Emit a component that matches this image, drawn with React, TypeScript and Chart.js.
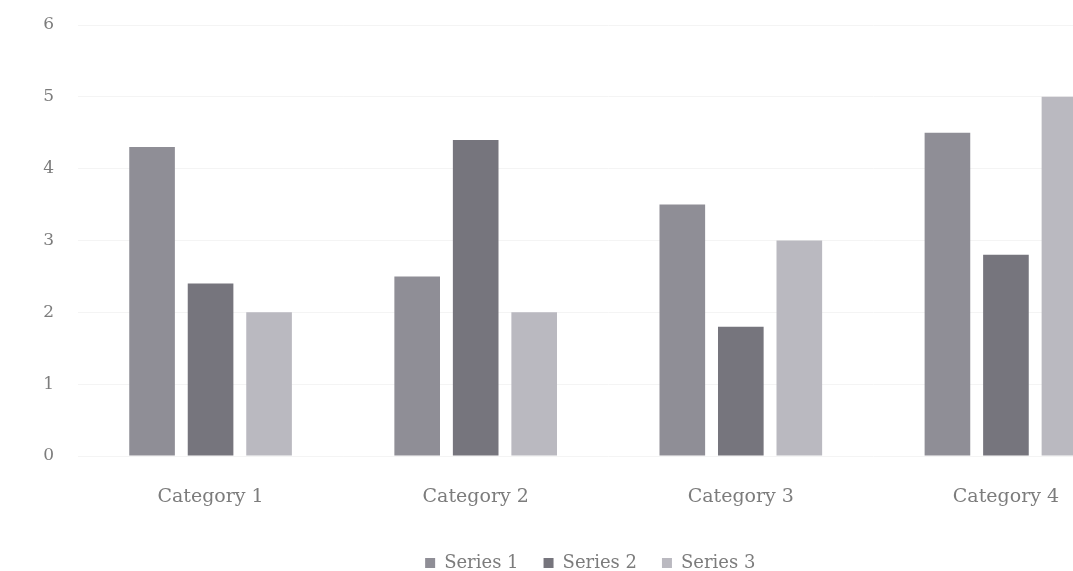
import React, { useEffect, useRef } from "react";
import { Chart, registerables } from "chart.js";

Chart.register(...registerables);

const categories = ["Category 1", "Category 2", "Category 3", "Category 4"];
const seriesNames = ["Series 1", "Series 2", "Series 3"];
const series1 = [4.3, 2.5, 3.5, 4.5];
const series2 = [2.4, 4.4, 1.8, 2.8];
const series3 = [2.0, 2.0, 3.0, 5.0];
const seriesColors = ["#8f8e96", "#76757d", "#bab9c0"];

export default function App() {
  const ref = useRef<HTMLCanvasElement | null>(null);
  useEffect(() => {
    const c = ref.current;
    if (!c) return;
    const values = [series1, series2, series3];
    const chart = new Chart(c, {
      type: "bar",
      data: {
        labels: categories,
        datasets: seriesNames.map((n, i) => ({
          label: n,
          data: values[i],
          backgroundColor: seriesColors[i],
          borderWidth: 0,
          categoryPercentage: 0.662,
          barPercentage: 0.78,
        })),
      },
      options: {
        animation: false,
        responsive: false,
        maintainAspectRatio: false,
        layout: { padding: { left: 42, right: 51.5, top: 25, bottom: 0 } },
        scales: {
          x: {
            afterFit: (s: any) => {
              s.height = 73;
            },
            grid: { display: false },
            border: { display: false },
            ticks: {
              color: "#7c7c7c",
              padding: 22,
              font: { family: "DejaVu Serif", size: 19 },
            },
          },
          y: {
            min: 0,
            max: 6,
            afterFit: (s: any) => {
              s.width = 36;
              s.paddingTop = 0;
              s.paddingBottom = 0;
            },
            grid: { color: "#f4f4f4", drawTicks: false },
            border: { display: false },
            ticks: {
              stepSize: 1,
              color: "#7c7c7c",
              padding: 24,
              font: { family: "DejaVu Serif", size: 17 },
            },
          },
        },
        plugins: {
          tooltip: { enabled: false },
          legend: {
            position: "bottom",
            labels: {
              color: "#7c7c7c",
              boxWidth: 10,
              boxHeight: 10,
              padding: 25,
              font: { family: "DejaVu Serif", size: 18 },
            },
          },
        },
      },
    });
    return () => chart.destroy();
  }, []);
  return (
    <div
      style={{
        position: "fixed",
        left: 0,
        top: 0,
        width: 1073,
        height: 571,
        overflow: "hidden",
        background: "#fff",
      }}
    >
      <canvas ref={ref} width={1190} height={582} style={{ display: "block" }} />
    </div>
  );
}
